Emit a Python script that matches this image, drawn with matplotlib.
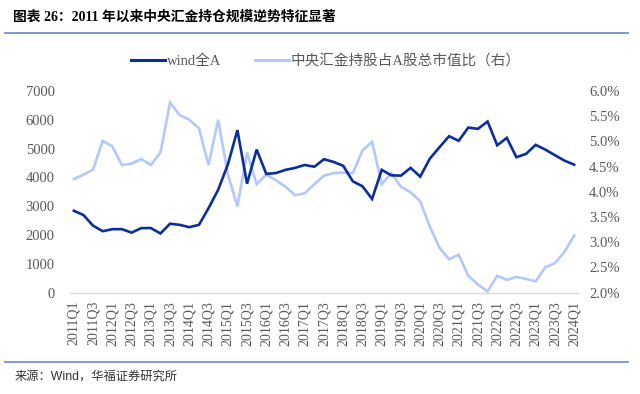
import matplotlib
matplotlib.use("Agg")
import matplotlib.pyplot as plt
from matplotlib.lines import Line2D

quarters = [f"{y}Q{q}" for y in range(2011, 2025) for q in (1, 2, 3, 4)][:53]

wind_a = [2840, 2690, 2320, 2130, 2200, 2200, 2080, 2235, 2240, 2050,
          2390, 2350, 2270, 2350, 2930, 3570, 4440, 5640, 3780, 4965,
          4120, 4150, 4260, 4330, 4430, 4370, 4630, 4535, 4400, 3860,
          3690, 3250, 4260, 4070, 4060, 4330, 4025, 4650, 5045, 5430,
          5270, 5730, 5685, 5940, 5115, 5370, 4700, 4815, 5130, 4965,
          4770, 4580, 4440]

huijin_pct = [4.25, 4.34, 4.44, 5.01, 4.90, 4.53, 4.56, 4.65, 4.53, 4.78,
              5.77, 5.52, 5.43, 5.26, 4.53, 5.43, 4.35, 3.71, 4.78, 4.15,
              4.34, 4.23, 4.10, 3.93, 3.97, 4.15, 4.32, 4.37, 4.38, 4.37,
              4.82, 4.99, 4.15, 4.37, 4.10, 3.99, 3.81, 3.31, 2.89, 2.66,
              2.75, 2.33, 2.16, 2.02, 2.33, 2.25, 2.31, 2.27, 2.22, 2.50,
              2.58, 2.81, 3.13]

left_ticks = [0, 1000, 2000, 3000, 4000, 5000, 6000, 7000]
right_ticks = [2.0, 2.5, 3.0, 3.5, 4.0, 4.5, 5.0, 5.5, 6.0]

FAM = ['Liberation Serif', 'Noto Sans CJK SC', 'DejaVu Sans']
DARK = '#0A2E9C'
LIGHT = '#B4C8FF'
GRAY = '#595959'
SEP = '#7094D0'

fig = plt.figure(figsize=(6.4, 3.94), dpi=100)
ax = fig.add_axes([70/640, 1-292.5/394, 508/640, (292.5-91)/394])
ax2 = ax.twinx()

x = list(range(len(quarters)))
ax2.plot(x, huijin_pct, color=LIGHT, lw=1.9, solid_joinstyle='miter')
ax.plot(x, wind_a, color=DARK, lw=1.9, solid_joinstyle='miter')
ax.set_zorder(ax2.get_zorder() + 1)
ax.patch.set_visible(False)

ax.set_xlim(-0.4, 52.4)
ax.set_ylim(0, 7000)
ax2.set_ylim(2.0, 6.0)

ax.set_yticks(left_ticks)
ax.set_yticklabels([str(v) for v in left_ticks])
ax2.set_yticks(right_ticks)
ax2.set_yticklabels([f"{v:.1f}%" for v in right_ticks])
ax.set_xticks(x[::2])
ax.set_xticklabels(quarters[::2], rotation=90)

for a in (ax, ax2):
    for s in a.spines.values():
        s.set_visible(False)
ax.spines['bottom'].set_visible(True)
ax.spines['bottom'].set_color('#D9D9D9')
ax.spines['bottom'].set_linewidth(1.0)

ax.tick_params(axis='y', length=0, pad=11, labelcolor=GRAY)
ax2.tick_params(axis='y', length=0, pad=8, labelcolor=GRAY)
ax.tick_params(axis='x', length=0, pad=6, labelcolor=GRAY)
for lab in ax.get_yticklabels() + ax2.get_yticklabels():
    lab.set_family(FAM)
    lab.set_fontsize(10.5)
for lab in ax.get_xticklabels():
    lab.set_family(FAM)
    lab.set_fontsize(10)

handles = [Line2D([], [], color=DARK, lw=2.2), Line2D([], [], color=LIGHT, lw=2.2)]
fig.legend(handles, ['wind全A', '中央汇金持股占A股总市值比（右）'],
           loc='center', bbox_to_anchor=(326/640, 1-61/394), ncol=2,
           frameon=False, handlelength=2.3, handletextpad=0.15,
           columnspacing=2.3, prop={'family': FAM, 'size': 10.5},
           labelcolor=GRAY)

fig.text(13/640, 1-17/394, '图表 26：2011 年以来中央汇金持仓规模逆势特征显著',
         family=FAM, fontsize=9.9, fontweight='bold', color='black',
         ha='left', va='center')
fig.add_artist(Line2D([5/640, 628/640], [1-33/394, 1-33/394],
                      transform=fig.transFigure, color=SEP, lw=1.3))
fig.add_artist(Line2D([5/640, 628/640], [1-362/394, 1-362/394],
                      transform=fig.transFigure, color=SEP, lw=1.3))
fig.text(15/640, 1-377/394, '来源：Wind，华福证券研究所',
         family=['Liberation Sans', 'Noto Sans CJK SC', 'DejaVu Sans'],
         fontsize=8.8, color='#333333', ha='left', va='center')

fig.savefig('out.png', dpi=100)
